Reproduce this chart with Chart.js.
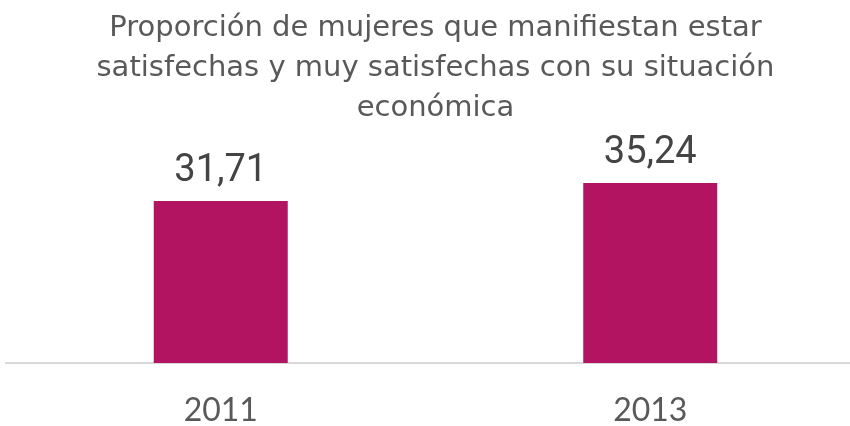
<!DOCTYPE html>
<html>
<head>
<meta charset="utf-8">
<script src="https://cdn.jsdelivr.net/npm/chart.js@4"></script>
<style>
  html, body { margin:0; padding:0; background:#fff; overflow:hidden; }
  #wrap { position:relative; width:850px; height:426px; overflow:hidden; }
  #box { position:absolute; left:0; top:0; width:872px; height:426px; }
</style>
</head>
<body>
<div id="wrap"><div id="box"><canvas id="chart"></canvas></div></div>
<script>
// data
const years = ['2011', '2013'];
const values = [31.71, 35.24];
const titleLines = [
  'Proporción de mujeres que manifiestan estar',
  'satisfechas y muy satisfechas con su situación',
  'económica'
];

const barColor = '#B31462';

// value labels above the bars
const valueLabels = {
  id:'valueLabels',
  afterDatasetsDraw(chart){
    const ctx = chart.ctx;
    const meta = chart.getDatasetMeta(0);
    ctx.save();
    ctx.font = '38px Roboto';
    ctx.fillStyle = '#444444';
    ctx.textAlign = 'center';
    ctx.textBaseline = 'alphabetic';
    meta.data.forEach((bar, i)=>{
      const txt = values[i].toFixed(2).replace('.', ',');
      ctx.fillText(txt, bar.x, bar.y - 20);
    });
    ctx.restore();
  }
};

new Chart(document.getElementById('chart'), {
  type:'bar',
  data:{ labels: years, datasets:[{ data: values, backgroundColor: barColor, borderWidth:0, barPercentage:0.312, categoryPercentage:1 }]},
  options:{
    responsive:true, maintainAspectRatio:false, animation:false,
    layout:{ padding:{ left:6, right:7, top:0, bottom:0 } },
    plugins:{
      legend:{ display:false },
      tooltip:{ enabled:false },
      title:{
        display:true, text: titleLines, color:'#595959',
        font:{ family:'DejaVu Sans', size:29, weight:'normal', lineHeight:1.38 },
        padding:{ top:8, bottom:5 }
      }
    },
    scales:{
      x:{
        grid:{ display:false, drawTicks:false },
        border:{ display:true, color:'#d9d9d9', width:2 },
        ticks:{ color:'#595959', padding:32, font:{ family:'Lato', size:32, lineHeight:1 } },
        afterFit(scale){ scale.height = 63; }
      },
      y:{ display:false, min:0, max:45 }
    }
  },
  plugins:[valueLabels]
});
</script>
</body>
</html>
